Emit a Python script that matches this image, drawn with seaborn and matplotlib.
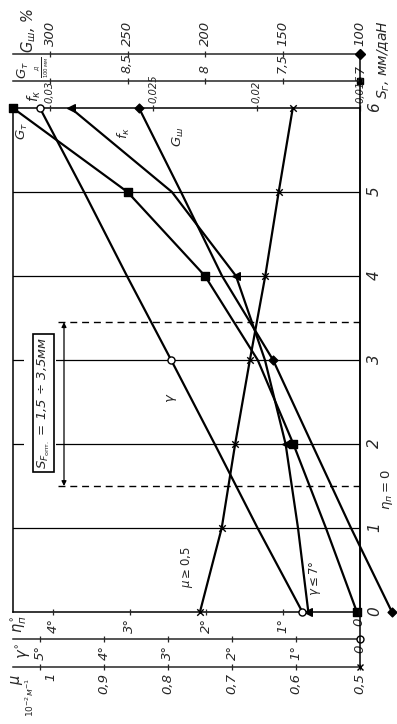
import matplotlib
matplotlib.use('Agg')
import matplotlib.pyplot as plt
import matplotlib.transforms as mtransforms
from matplotlib.lines import Line2D
from matplotlib.patches import Rectangle
import seaborn as sns
import pandas as pd

# ---------------- data ----------------
S_r = [0, 1, 2, 3, 4, 5, 6]                                   # мм/даН
G_sh = [79.4, 105.8, 131.0, 156.1, 189.0, 215.5, 242.6]      # G_ш, %
G_T = [7.02, 7.22, 7.43, 7.66, 8.00, 8.50, 9.24]             # G_т, Д/100мм
f_k = [0.0175, 0.0180, 0.0186, 0.0196, 0.0210, 0.0241, 0.0290]
gamma = [0.90, 1.60, 2.27, 2.95, 3.64, 4.31, 5.00]           # γ°
mu = [0.750, 0.716, 0.695, 0.672, 0.648, 0.627, 0.605]       # μ, 10^-2 м^-1

S_opt = [1.5, 3.45]

Gsh_ticks = [300, 250, 200, 150, 100]
Gsh_labels = ['300', '250', '200', '150', '100']
GT_ticks = [8.5, 8, 7.5, 7]
GT_minor = [9]
GT_labels = ['8,5', '8', '7,5', '7']
fk_ticks = [0.03, 0.025, 0.02, 0.015]
fk_labels = ['0,03', '0,025', '0,02', '0,015']
eta_ticks = [4, 3, 2, 1, 0]
eta_labels = ['4°', '3°', '2°', '1°', '0']
gam_ticks = [5, 4, 3, 2, 1, 0]
gam_labels = ['5°', '4°', '3°', '2°', '1°', '0']
mu_ticks = [0.9, 0.8, 0.7, 0.6, 0.5]
mu_minor = [1.0]
mu_labels = ['0,9', '0,8', '0,7', '0,6', '0,5']
mu_first_label = '1'
S_ticks = [0, 1, 2, 3, 4, 5, 6]
S_labels = ['0', '1', '2', '3', '4', '5', '6']

df = pd.DataFrame({'S': S_r, 'G_sh': G_sh, 'G_T': G_T, 'f_k': f_k,
                   'gamma': gamma, 'mu': mu})

# ---------------- style ----------------
sns.set_style('white')
FAM = ['DejaVu Sans']
plt.rcParams['font.family'] = FAM
plt.rcParams['mathtext.fontset'] = 'dejavusans'

W, H = 397, 724
fig = plt.figure(figsize=(W / 100, H / 100), dpi=100)
fig.patch.set_facecolor('white')

X0, X1, YT, YB = 13, 360, 108, 612
ax = fig.add_axes([X0 / W, 1 - YB / H, (X1 - X0) / W, (YB - YT) / H])
ax.set_ylim(0, 6)
ax.set_xlim(0, 1)
ax.set_xticks([])
for sp in ax.spines.values():
    sp.set_linewidth(1.1)
    sp.set_color('k')
ax.yaxis.tick_right()
ax.set_yticks(S_ticks)
ax.set_yticklabels(S_labels)
ax.tick_params(axis='y', length=0, pad=5, labelrotation=90, labelsize=11)
for t in ax.get_yticklabels():
    t.set_fontstyle('italic')

PT = 0.72  # px -> pt


def make_axis(lim, ticks, labels, side, offset_px, spine_visible=True, pad=3,
              size=9.5, minor=None):
    t = ax.twiny()
    t.set_xlim(*lim)
    t.set_ylim(0, 6)
    for sp in t.spines.values():
        sp.set_visible(False)
    if side == 'top':
        t.xaxis.set_ticks_position('top')
    else:
        t.xaxis.set_ticks_position('bottom')
    t.spines[side].set_visible(spine_visible)
    t.spines[side].set_position(('outward', offset_px * PT))
    t.spines[side].set_linewidth(1.1)
    t.set_xticks(ticks)
    t.set_xticklabels(labels)
    if minor:
        t.set_xticks(minor, minor=True)
        t.tick_params(axis='x', which='minor', direction='inout', length=4,
                      width=0.9)
    t.tick_params(axis='x', direction='inout', length=4, width=0.9,
                  labelrotation=90, pad=pad, labelsize=size)
    for lab in t.get_xticklabels():
        lab.set_fontstyle('italic')
    return t


ax_gsh = make_axis((323.9, 100), Gsh_ticks, Gsh_labels, 'top', 54, pad=4)
ax_gt = make_axis((9.239, 7), GT_ticks, GT_labels, 'top', 27, pad=4,
                  minor=GT_minor, size=9)
ax_fk = make_axis((0.03179, 0.015), fk_ticks, fk_labels, 'top', 0,
                  spine_visible=False, pad=1.5, size=7.2)
ax_eta = make_axis((4.53, -0.013), eta_ticks, eta_labels, 'bottom', 0,
                   spine_visible=False, pad=2)
ax_gam = make_axis((5.42, 0), gam_ticks, gam_labels, 'bottom', 27, pad=2)
ax_mu = make_axis((1.042, 0.5), mu_ticks, mu_labels, 'bottom', 55, pad=2,
                  minor=mu_minor)

# ---------------- grid, optimum zone ----------------
for k in S_ticks[1:-1]:
    ax.axhline(k, color='k', lw=0.9, zorder=1)
for s in S_opt:
    ax.axhline(s, xmin=(58 - X0) / (X1 - X0), xmax=1, color='k', lw=1.0,
               ls=(0, (5, 3.5)), zorder=1)
ytr = ax.get_yaxis_transform()
xa = (64 - X0) / (X1 - X0)
ax.annotate('', xy=(xa, S_opt[0]), xytext=(xa, S_opt[1]), xycoords=ytr,
            textcoords=ytr,
            arrowprops=dict(arrowstyle='<|-|>', color='k', lw=0.9,
                            mutation_scale=7, shrinkA=0, shrinkB=0))
ax.add_patch(Rectangle(((58 - 3 - X0) / (X1 - X0) - 0.09, 1.65), 0.092, 1.65,
                       transform=ytr, facecolor='white', edgecolor='none', zorder=2))
ax.add_patch(Rectangle(((33 - X0) / (X1 - X0), 1.67), (54 - 33) / (X1 - X0), 1.64,
                       transform=ytr, facecolor='white', edgecolor='k', lw=1.2, zorder=3))
ax.text((44 - X0) / (X1 - X0), 2.49, r'$S_{F_{\mathrm{опт.}}}$ = 1,5 ÷ 3,5мм',
        transform=ytr, rotation=90, ha='center', va='center', fontsize=9.5,
        fontstyle='italic', zorder=4)

# ---------------- curves ----------------
LW = 1.6


def curve(t, col, marker, idx, mfc='k', s=26):
    sns.lineplot(data=df, x=col, y='S', sort=False, estimator=None, ax=t,
                 color='k', lw=LW, clip_on=False, zorder=5)
    sub = df.iloc[idx]
    sns.scatterplot(data=sub, x=col, y='S', ax=t, marker=marker, s=s,
                    color=mfc, edgecolor='k', linewidth=1.0, clip_on=False, zorder=6)
    t.set_xlabel('')
    t.set_ylabel('')


curve(ax_gt, 'G_T', 's', [0, 2, 4, 5, 6], s=28)
curve(ax_fk, 'f_k', '<', [0, 2, 4, 6], s=30)
curve(ax_gsh, 'G_sh', 'D', [0, 3, 6], s=20)
curve(ax_gam, 'gamma', 'o', [0, 3, 6], mfc='white', s=26)
curve(ax_mu, 'mu', 'x', list(range(7)), s=22)

# end-of-axis symbols
for t, val, yfrac, mk, fc in [(ax_gsh, 100, 1 + 54 / 504, 'D', 'k'),
                              (ax_gt, 7, 1 + 27 / 504, 's', 'k'),
                              (ax_gam, 0, -27 / 504, 'o', 'white'),
                              (ax_mu, 0.5, -55 / 504, 'x', 'k')]:
    tr = mtransforms.blended_transform_factory(t.transData, ax.transAxes)
    t.plot([val], [yfrac], marker=mk, ms=5, mfc=fc, mec='k', mew=1.0,
           transform=tr, clip_on=False, zorder=7)

# right vertical line joining all the scales
fig.add_artist(Line2D([X1 / W, X1 / W], [1 - 54 / H, 1 - 667 / H],
                      transform=fig.transFigure, color='k', lw=1.1))


# ---------------- texts ----------------
def P(x, y):
    return (x / W, 1 - y / H)


def txt(x, y, s, size=10, **kw):
    fig.text(*P(x, y), s, rotation=90, ha='center', va='center',
             fontsize=size, fontstyle='italic', **kw)


txt(29, 30, r'$G_{ш}$, %', 10.5)
txt(23, 70, r'$G_{т}$', 9.5)
txt(42, 67, r'$\frac{Д}{100\,мм}$', 5.5)
txt(34, 96, r'$f_{к}$', 10)
txt(384, 60, r'$S_{г}$, мм/даН', 10)
txt(19, 624, r'$\eta^{\circ}_{п}$', 10.5)
txt(24, 651, r'$\gamma^{\circ}$', 10.5)
txt(17, 680, r'$\mu$', 10.5)
txt(30, 697, r'$10^{-2}м^{-1}$', 6.5)
txt(51, 677, mu_first_label, 9.5)

txt(22, 131, r'$G_{т}$', 9.5)
txt(124, 133, r'$f_{к}$', 9.5)
txt(178, 137, r'$G_{ш}$', 9.5)
txt(172, 398, r'$\gamma$', 9.5)
txt(187, 567, r'$\mu \geq 0{,}5$', 8.5)
txt(315, 578, r'$\gamma \leq 7°$', 8.5)
txt(387, 490, r'$\eta_{п}=0$', 9.5)

fig.savefig('out.png', dpi=100, facecolor='white')
